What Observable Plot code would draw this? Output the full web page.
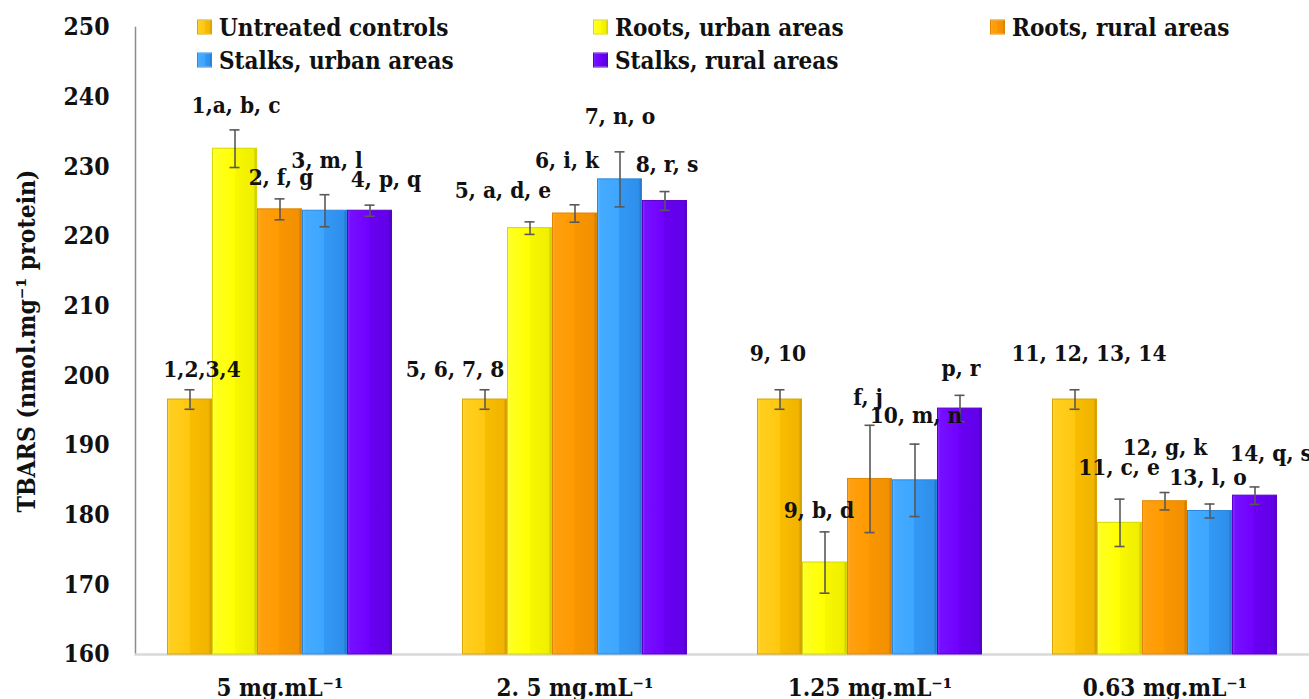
<!DOCTYPE html>
<html><head><meta charset="utf-8">
<script src="https://cdn.jsdelivr.net/npm/d3@7"></script>
<script src="https://cdn.jsdelivr.net/npm/@observablehq/plot@0.6"></script>
<style>
body{margin:0;background:#fff;}
#wrap{position:relative;width:1309px;height:699px;font-family:"DejaVu Serif Condensed","DejaVu Serif",serif;font-weight:bold;}
.leg{position:absolute;display:flex;align-items:center;font-size:24px;color:#111;white-space:nowrap;transform:translateY(-50%);}
.sw{width:15px;height:15px;margin-right:7px;box-sizing:border-box;}
</style></head><body><div id="wrap"></div>
<script>
// ---------- data ----------
const categories = ["5 mg.mL⁻¹", "2. 5 mg.mL⁻¹", "1.25 mg.mL⁻¹", "0.63 mg.mL⁻¹"];
const seriesNames = ["Untreated controls", "Roots, urban areas", "Roots, rural areas", "Stalks, urban areas", "Stalks, rural areas"];
const untreated      = [196.6, 196.6, 196.6, 196.6];
const untreatedErr   = [1.4, 1.4, 1.4, 1.4];
const rootsUrban     = [232.6, 221.2, 173.2, 178.9];
const rootsUrbanErr  = [2.7, 0.9, 4.4, 3.4];
const rootsRural     = [223.9, 223.3, 185.2, 182.0];
const rootsRuralErr  = [1.5, 1.25, 7.7, 1.25];
const stalksUrban    = [223.7, 228.2, 185.0, 180.6];
const stalksUrbanErr = [2.3, 3.95, 5.2, 1.0];
const stalksRural    = [223.7, 225.1, 195.3, 182.8];
const stalksRuralErr = [0.8, 1.35, 1.9, 1.25];
const labelsUntreated   = ["1,2,3,4", "5, 6, 7, 8", "9, 10", "11, 12, 13, 14"];
const labelsRootsUrban  = ["1,a, b, c", "5, a, d, e", "9, b, d", "11, c, e"];
const labelsRootsRural  = ["2, f, g", "6, i, k", "f, j", "12, g, k"];
const labelsStalksUrban = ["3, m, l", "7, n, o", "10, m, n", "13, l, o"];
const labelsStalksRural = ["4, p, q", "8, r, s", "p, r", "14, q, s"];
const yDomain = [160, 250];
const yTicks = [160, 170, 180, 190, 200, 210, 220, 230, 240, 250];
const yTitle = "TBARS (nmol.mg⁻¹ protein)";

// ---------- styling / layout ----------
const FONT = "'DejaVu Serif Condensed', 'DejaVu Serif', serif";
const W = 1309, H = 699, mL = 135, mR = 0, mT = 27, mB = 45;
const padIn = 0.238, padOut = 0.107;
const nS = seriesNames.length;
const step = (W - mL - mR) / (categories.length - padIn + 2 * padOut);
const bw = step * (1 - padIn) / nS;
const capW = 10;
const gradients = [
  [[0,"#FFD84A"],[0.06,"#FFCF1F"],[0.5,"#FFC810"],[0.5,"#F8BD00"],[0.93,"#F2B400"],[1,"#C99600"]],
  [[0,"#FFFF55"],[0.06,"#FFFF22"],[0.5,"#FFFF00"],[0.5,"#F8F800"],[0.93,"#EFEF00"],[1,"#C4C400"]],
  [[0,"#FFAA33"],[0.06,"#FFA010"],[0.5,"#FF9A00"],[0.5,"#F99500"],[0.93,"#F29000"],[1,"#CC7400"]],
  [[0,"#66BBFF"],[0.06,"#45ABFF"],[0.5,"#3DA6FF"],[0.5,"#3398F5"],[0.93,"#2E8FEB"],[1,"#2270C0"]],
  [[0,"#8A33FF"],[0.06,"#7610FF"],[0.5,"#7000FF"],[0.5,"#6800F2"],[0.93,"#6200E8"],[1,"#4A00B8"]]
];
const edgeColors = ["#D9A400", "#D6D600", "#E08600", "#2C86DD", "#5A00CC"];
// pixel nudges of each data label from the top of its error bar [dx, dy]
const labelNudges = [
  [[12,-20],[-30,-20],[-2,-36],[14,-36]],
  [[1,-24],[-27,-31],[-6,-21],[-1,-31]],
  [[1,-21],[-8,-44],[-2,-27],[0,-45]],
  [[2,-34],[0,-35],[1,-28],[-2,-26]],
  [[16,-25],[2,-27],[1,-27],[16,-33]]
];

const seriesValues = [untreated, rootsUrban, rootsRural, stalksUrban, stalksRural];
const seriesErrors = [untreatedErr, rootsUrbanErr, rootsRuralErr, stalksUrbanErr, stalksRuralErr];
const seriesLabels = [labelsUntreated, labelsRootsUrban, labelsRootsRural, labelsStalksUrban, labelsStalksRural];

const rows = [];
categories.forEach((c, ci) => seriesNames.forEach((s, si) => rows.push({
  cat: c, ci, si, series: s, value: seriesValues[si][ci], err: seriesErrors[si][ci], label: seriesLabels[si][ci]
})));

const defsMark = () => {
  const defs = d3.create("svg:defs");
  gradients.forEach((stops, i) => {
    const g = defs.append("linearGradient").attr("id", `grad${i}`)
      .attr("x1", "0").attr("x2", "1").attr("y1", "0").attr("y2", "0");
    stops.forEach(([o, c]) => g.append("stop").attr("offset", o).attr("stop-color", c));
  });
  return defs.node();
};

const marks = [defsMark];
marks.push(Plot.frame({anchor: "left", stroke: "#8c8c8c", strokeWidth: 1.5}));
marks.push(Plot.ruleY([yDomain[0]], {stroke: "#d9d9d9", strokeWidth: 2.5}));
marks.push(Plot.axisY({ticks: yTicks, tickSize: 0, tickPadding: 26, fontSize: 24.5, fontWeight: "bold",
  label: yTitle, labelAnchor: "center", labelOffset: 118, labelArrow: false}));
marks.push(Plot.axisX({tickSize: 0, tickPadding: 24, fontSize: 24, fontWeight: "bold", label: null}));

seriesNames.forEach((s, si) => {
  const d = rows.filter(r => r.si === si);
  const off = (si - (nS - 1) / 2) * bw;
  marks.push(Plot.barY(d, {x: "cat", y1: () => yDomain[0], y2: "value", fill: `url(#grad${si})`,
    stroke: edgeColors[si], strokeWidth: 1, insetLeft: si * bw + 0.5, insetRight: (nS - 1 - si) * bw + 0.5}));
  marks.push(Plot.ruleX(d, {x: "cat", y1: r => r.value - r.err, y2: r => r.value + r.err, dx: off, stroke: "#595959", strokeWidth: 1.6}));
  const capIn = (bw - capW) / 2;
  marks.push(Plot.tickY(d, {x: "cat", y: r => r.value + r.err, insetLeft: si * bw + capIn, insetRight: (nS - 1 - si) * bw + capIn, stroke: "#595959", strokeWidth: 1.6}));
  marks.push(Plot.tickY(d, {x: "cat", y: r => r.value - r.err, insetLeft: si * bw + capIn, insetRight: (nS - 1 - si) * bw + capIn, stroke: "#595959", strokeWidth: 1.6}));
});

rows.forEach(r => {
  const off = (r.si - (nS - 1) / 2) * bw;
  const [ndx, ndy] = labelNudges[r.si][r.ci];
  marks.push(Plot.text([r], {x: "cat", y: d => d.value + d.err, text: "label", dx: off + ndx, dy: ndy,
    fontSize: 22.5, fontWeight: "bold", fill: "#111"}));
});

const chart = Plot.plot({
  width: W, height: H,
  marginLeft: mL, marginRight: mR, marginTop: mT, marginBottom: mB,
  style: {fontFamily: FONT, color: "#111", background: "#fff", overflow: "visible"},
  x: {domain: categories, paddingInner: padIn, paddingOuter: padOut, align: 0.5, axis: null},
  y: {domain: yDomain, axis: null},
  marks
});

const wrap = document.getElementById("wrap");
wrap.appendChild(chart);

// legend (overlaid on the top of the plot area)
const legendPos = [[197, 27], [593, 27], [990, 27], [197, 60], [593, 60]];
seriesNames.forEach((s, i) => {
  const item = document.createElement("div");
  item.className = "leg";
  item.style.left = legendPos[i][0] + "px";
  item.style.top = legendPos[i][1] + "px";
  const sw = document.createElement("div");
  sw.className = "sw";
  sw.style.background = `linear-gradient(to right, ${gradients[i].map(([o, c]) => `${c} ${o * 100}%`).join(", ")})`;
  sw.style.border = `1px solid ${edgeColors[i]}`;
  const t = document.createElement("span");
  t.textContent = s;
  item.appendChild(sw); item.appendChild(t);
  wrap.appendChild(item);
});
</script></body></html>
